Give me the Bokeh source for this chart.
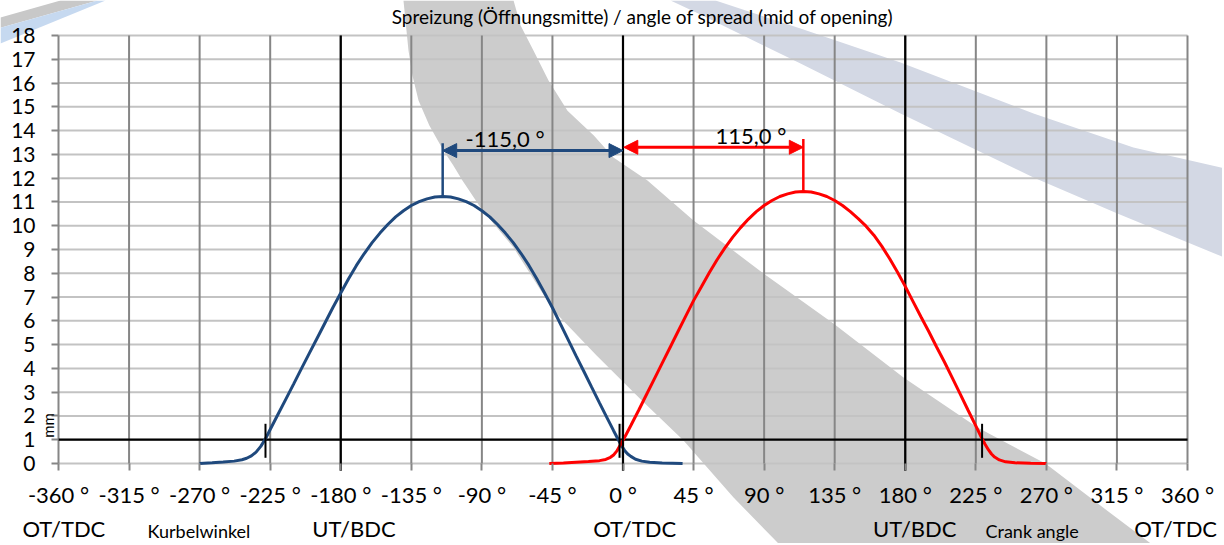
from bokeh.plotting import figure
from bokeh.models import FixedTicker, Label, Arrow, NormalHead, Range1d
from bokeh.embed import file_html
from bokeh.resources import INLINE

FONT = "Lato"

# ---------------- data ----------------
x_ticks = [-360, -315, -270, -225, -180, -135, -90, -45, 0, 45, 90, 135, 180, 225, 270, 315, 360]
x_tick_labels = ["-360 °", "-315 °", "-270 °", "-225 °", "-180 °", "-135 °", "-90 °", "-45 °", "0 °",
                 "45 °", "90 °", "135 °", "180 °", "225 °", "270 °", "315 °", "360 °"]
y_ticks = list(range(0, 19))
dead_centres = [-180, 0, 180]
ref_lift = 1.0

# inlet (blue) valve lift, mm over crank angle
blue_x = [-270, -262, -255, -248, -243, -240, -237, -234, -231, -228, -225, -220, -215, -210, -205,
          -200, -195, -190, -185, -180, -175, -170, -165, -160, -155, -150, -145, -140, -135, -130,
          -125, -120, -115, -110, -105, -100, -95, -90, -85, -80, -75, -70, -65, -60, -55, -50, -45,
          -40, -35, -30, -25, -20, -15, -10, -6, -3, -1, 1, 3, 5, 8, 12, 17, 25, 38]
blue_y = [0.0, 0.03, 0.06, 0.1, 0.16, 0.22, 0.32, 0.48, 0.72, 1.04, 1.43, 2.07, 2.71, 3.35, 4.0,
          4.64, 5.28, 5.92, 6.56, 7.17, 7.77, 8.33, 8.83, 9.29, 9.69, 10.05, 10.37, 10.63, 10.85, 11.01,
          11.13, 11.21, 11.23, 11.21, 11.13, 11.01, 10.85, 10.63, 10.37, 10.05, 9.69, 9.29, 8.83, 8.33,
          7.77, 7.17, 6.55, 5.88, 5.21, 4.54, 3.88, 3.21, 2.55, 1.9, 1.38, 1.0, 0.76, 0.55, 0.4, 0.3,
          0.18, 0.1, 0.05, 0.02, 0.0]

# exhaust (red) valve lift
red_x = [-47, -38, -30, -22, -15, -11, -8, -6, -4, -2, 0, 2, 5, 10, 15, 20, 25, 30, 35, 40, 45, 50,
         55, 60, 65, 70, 75, 80, 85, 90, 95, 100, 105, 110, 115, 120, 125, 130, 135, 140, 145, 150,
         155, 160, 165, 170, 175, 180, 185, 190, 195, 200, 205, 210, 215, 220, 225, 229, 231, 233,
         235, 237, 240, 244, 250, 260, 270]
red_y = [0.0, 0.02, 0.05, 0.08, 0.12, 0.17, 0.26, 0.36, 0.52, 0.75, 0.98, 1.22, 1.6, 2.24, 2.9, 3.56,
         4.22, 4.88, 5.54, 6.2, 6.85, 7.43, 8.02, 8.57, 9.07, 9.52, 9.92, 10.28, 10.59, 10.85, 11.06,
         11.23, 11.34, 11.42, 11.44, 11.42, 11.34, 11.23, 11.06, 10.85, 10.59, 10.3, 9.98, 9.6, 9.14,
         8.62, 8.05, 7.45, 6.81, 6.17, 5.55, 4.9, 4.27, 3.6, 2.93, 2.25, 1.58, 1.04, 0.8, 0.58, 0.4,
         0.27, 0.15, 0.07, 0.03, 0.01, 0.0]

# spread annotation values
spread_blue = -115.0
spread_red = 115.0
peak_blue = 11.2
peak_red = 11.42
annot_top_blue = 13.47
annot_top_red = 13.65
arrow_y_blue = 13.16
arrow_y_red = 13.30
spread_label_blue = "-115,0 °"
spread_label_red = "115,0 °"

# 1 mm crossing markers
cross_x = [-228.0, -2.2, -0.1, 229.0]
cross_lo = 0.24
cross_hi = 1.67

# background watermark bands (data units)
band_grey_x = [-69.8, -65.3, -57.1, -47.5, -35.4, -18.6, -6.1, 15.6, 45.0, 89.6, 134.2, 178.9, 226.1,
               269.4, 304.5, 338.3,
               100.4, 70.5, 38.6, 12.0, -17.0, -44.3, -69.8, -89.6, -102.4, -108.2, -114.5, -123.5,
               -130.4, -134.3, -136.8, -140.0]
band_grey_y = [19.47, 18.42, 17.37, 16.11, 14.84, 13.79, 12.87, 11.90, 10.22, 7.99, 5.89, 3.62, 1.51,
               0.0, -1.77, -3.45,
               -3.45, -1.43, 0.97, 2.65, 4.55, 6.43, 9.08, 10.64, 11.90, 12.53, 13.16, 14.21,
               15.27, 16.32, 17.37, 19.47]
band_blue_x = [59.0, 113.2, 177.0, 261.8, 325.5, 383.6, 383.6, 315.3, 261.8, 177.0, 113.2, 49.4, 30.3]
band_blue_y = [19.47, 18.29, 16.86, 14.72, 13.29, 12.41, 8.66, 10.51, 12.03, 14.72, 16.82, 18.88, 19.47]
corner_grey_x = [-397, -397, -335.1, -358.7]
corner_grey_y = [18.76, 18.33, 19.47, 19.47]
corner_blue_x = [-397, -397, -330.0, -335.1]
corner_blue_y = [18.33, 17.66, 19.47, 19.47]

title_text = "Spreizung (Öffnungsmitte) / angle of spread (mid of opening)"
bottom_texts = ["OT/TDC", "Kurbelwinkel", "UT/BDC", "OT/TDC", "UT/BDC", "Crank angle", "OT/TDC"]
bottom_x = [-383.0, -303.2, -198.2, -19.0, 159.5, 231.2, 326.0]
bottom_y = [-2.75, -2.83, -2.75, -2.75, -2.75, -2.83, -2.75]
bottom_sizes = ["22px", "18px", "22px", "22px", "22px", "18px", "22px"]

BLUE = "#1f497d"
RED = "#ff0000"
GRID_V = "#868686"
GRID_H = "#c3c3c3"

# ---------------- figure ----------------
W, H = 1222, 543
px_per_deg = 1129 / 720.0
px_per_mm = 428 / 18.0
x_range = Range1d(-360 - 58 / px_per_deg, 360 + (W - 1187) / px_per_deg)
y_range = Range1d(0 - (H - 463) / px_per_mm, 18 + 35 / px_per_mm)

p = figure(width=W, height=H, x_range=x_range, y_range=y_range,
           output_backend="svg", toolbar_location=None, min_border=0)
p.outline_line_color = None
p.background_fill_color = "white"
p.border_fill_color = "white"
p.xgrid.visible = False
p.ygrid.visible = False

# watermark bands
for xs, ys, col in [(band_grey_x, band_grey_y, "#cccccc"), (band_blue_x, band_blue_y, "#d3d8e4"),
                    (corner_grey_x, corner_grey_y, "#c8c8c8"), (corner_blue_x, corner_blue_y, "#c6d9f0")]:
    p.patch(xs, ys, fill_color=col, line_color=None)

# axes fixed at the data origin lines
p.xaxis.fixed_location = 0
p.yaxis.fixed_location = -360
p.xaxis.bounds = (-360, 360)
p.yaxis.bounds = (0, 18)
p.xaxis.ticker = FixedTicker(ticks=x_ticks)
p.xaxis.major_label_overrides = {t: l for t, l in zip(x_ticks, x_tick_labels)}
p.yaxis.ticker = FixedTicker(ticks=y_ticks)
for ax in (p.xaxis, p.yaxis):
    ax.major_tick_in = 0
    ax.major_tick_out = 7
    ax.minor_tick_line_color = None
    ax.major_tick_line_color = GRID_V
    ax.major_tick_line_width = 2
    ax.major_label_text_font = FONT
    ax.major_label_text_color = "black"
    ax.axis_line_color = None
p.xaxis.major_label_text_font_size = "22px"
p.yaxis.major_label_text_font_size = "21px"
p.xaxis.major_label_standoff = 10
p.yaxis.major_label_standoff = 16

# grid from tick arrays
p.segment(x0=[-360] * len(y_ticks), y0=y_ticks, x1=[360] * len(y_ticks), y1=y_ticks,
          line_color=GRID_H, line_width=2)
p.segment(x0=x_ticks, y0=[0] * len(x_ticks), x1=x_ticks, y1=[18] * len(x_ticks),
          line_color=GRID_V, line_width=2)
p.segment(x0=dead_centres, y0=[-0.3] * len(dead_centres), x1=dead_centres, y1=[18] * len(dead_centres),
          line_color="black", line_width=2.2)
p.segment(x0=[-360], y0=[ref_lift], x1=[360], y1=[ref_lift], line_color="black", line_width=2.2)

# curves
p.line(blue_x, blue_y, line_color=BLUE, line_width=3)
p.line(red_x, red_y, line_color=RED, line_width=3)

p.segment(x0=cross_x, y0=[cross_lo] * len(cross_x), x1=cross_x, y1=[cross_hi] * len(cross_x),
          line_color="black", line_width=2)

p.segment(x0=[spread_blue], y0=[peak_blue], x1=[spread_blue], y1=[annot_top_blue], line_color=BLUE, line_width=2.5)
p.segment(x0=[spread_red], y0=[peak_red], x1=[spread_red], y1=[annot_top_red], line_color=RED, line_width=2.5)

p.add_layout(Arrow(x_start=spread_blue, y_start=arrow_y_blue, x_end=0, y_end=arrow_y_blue,
                   line_color=BLUE, line_width=3,
                   start=NormalHead(size=14, fill_color=BLUE, line_color=BLUE),
                   end=NormalHead(size=14, fill_color=BLUE, line_color=BLUE)))
p.add_layout(Arrow(x_start=0.5, y_start=arrow_y_red, x_end=spread_red, y_end=arrow_y_red,
                   line_color=RED, line_width=3,
                   start=NormalHead(size=14, fill_color=RED, line_color=RED),
                   end=NormalHead(size=14, fill_color=RED, line_color=RED)))

p.add_layout(Label(x=-100.4, y=13.67, text=spread_label_blue, text_font=FONT, text_font_size="22px",
                   text_align="left", text_baseline="middle", text_color="black"))
p.add_layout(Label(x=59.0, y=13.79, text=spread_label_red, text_font=FONT, text_font_size="22px",
                   text_align="left", text_baseline="middle", text_color="black"))

p.add_layout(Label(x=12.4, y=18.79, text=title_text, text_font=FONT, text_font_size="19px",
                   text_align="center", text_baseline="middle", text_color="black"))

p.add_layout(Label(x=-366.4, y=1.6, text="mm", text_font=FONT, text_font_size="15px", angle=1.5708,
                   text_align="center", text_baseline="middle", text_color="black"))

for t, xx, yy, fs in zip(bottom_texts, bottom_x, bottom_y, bottom_sizes):
    p.add_layout(Label(x=xx, y=yy, text=t, text_font=FONT, text_font_size=fs,
                       text_align="left", text_baseline="middle", text_color="black"))

open("out.html", "w").write(file_html(p, INLINE))
